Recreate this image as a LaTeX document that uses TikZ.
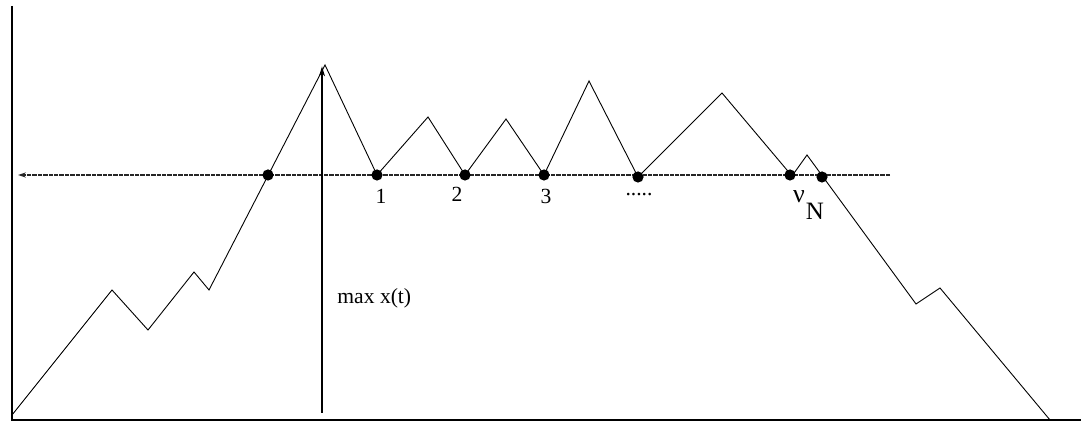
\documentclass[tikz,border=0pt]{standalone}
\usepackage{fontspec}
\setmainfont{Liberation Serif}
\usetikzlibrary{arrows.meta}
\begin{document}
\begin{tikzpicture}[x=0.5pt,y=-0.5pt,
  axis/.style={line width=0.7pt},
  walk/.style={line width=0.45pt, line join=miter},
  level/.style={line width=0.65pt, draw=black!85, dash pattern=on 2.2pt off 0.5pt, -{Stealth[length=4pt,width=2.6pt]}},
  pt/.style={circle, fill=black, inner sep=0pt, minimum size=5.6pt},
  lbl/.style={font=\fontsize{10.8}{12}\selectfont, inner sep=0pt}]
\useasboundingbox (0,0) rectangle (1081,421);
% axes
\coordinate (o) at (12,420);
\coordinate (ytop) at (12,6);
\coordinate (xend) at (1081,420);
\draw[axis] (ytop) -- (o) -- (xend);
% walk vertices
\coordinate (w0) at (12,415);
\coordinate (w1) at (112,290);
\coordinate (w2) at (148,330);
\coordinate (w3) at (194,272);
\coordinate (w4) at (209,290);
\coordinate (w5) at (325,65);
\coordinate (w6) at (377,175);
\coordinate (w7) at (428,117);
\coordinate (w8) at (465,175);
\coordinate (w9) at (506,119);
\coordinate (w10) at (544,175);
\coordinate (w11) at (589,81);
\coordinate (w12) at (638,177);
\coordinate (w13) at (722,93);
\coordinate (w14) at (792,176);
\coordinate (w15) at (807,155);
\coordinate (w16) at (916,304);
\coordinate (w17) at (940,288);
\coordinate (w18) at (1050,420);
\draw[walk] (w0) -- (w1) -- (w2) -- (w3) -- (w4) -- (w5) -- (w6) -- (w7) -- (w8) -- (w9) -- (w10) -- (w11) -- (w12) -- (w13) -- (w14) -- (w15) -- (w16) -- (w17) -- (w18);
% level line
\coordinate (lr) at (890,175);
\coordinate (ll) at (18,175);
\draw[level] (lr) -- (ll);
% dots
\node[pt] (d0) at (268,175) {};
\node[pt] (d1) at (377,175) {};
\node[pt] (d2) at (465,175) {};
\node[pt] (d3) at (544,175) {};
\node[pt] (d4) at (638,177) {};
\node[pt] (d5) at (790,175) {};
\node[pt] (d6) at (822,177) {};
% labels
\node[lbl] (l1) at (381,196) {1};
\node[lbl] (l2) at (457,194) {2};
\node[lbl] (l3) at (546,196) {3};
\node[lbl] (l4) at (639,195) {.....};
\node[lbl, font=\fontsize{13}{14}\selectfont] (nu) at (799,197) {ν};
\node[lbl, font=\fontsize{12.5}{14}\selectfont] (nN) at (815,211) {N};
% max arrow
\coordinate (mb) at (322,413);
\node[inner sep=0pt] (mt) at (322,65) {};
\draw[line width=0.6pt, -{Stealth[length=5pt,width=3pt]}] (mb) -- (mt);
\node[lbl, anchor=west] (mx) at (337,298) {max x(t)};
\end{tikzpicture}
\end{document}
